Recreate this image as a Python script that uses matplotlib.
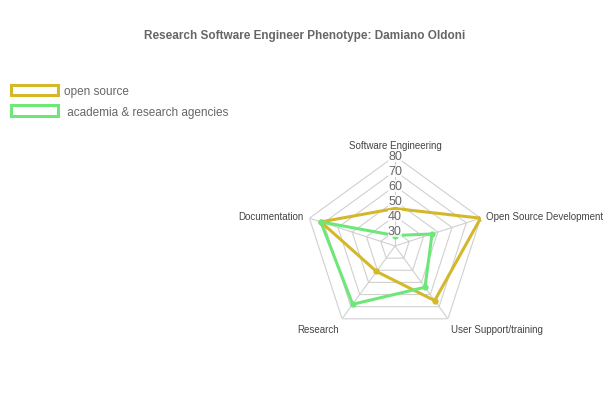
import numpy as np
import matplotlib
matplotlib.use("Agg")
import matplotlib.pyplot as plt
from matplotlib.patches import Patch

plt.rcParams["font.family"] = ["Liberation Sans", "DejaVu Sans"]

categories = ["Software Engineering", "Open Source Development", "User Support/training", "Research", "Documentation"]
open_source = [45, 80, 65, 41, 72]
academia = [27, 46, 54, 68, 72]
ticks = [30, 40, 50, 60, 70, 80]
gold = "#d4b82a"
green = "#6ee77a"

fig = plt.figure(figsize=(6.1, 4.06), dpi=100)
cx, cy, R = 395, 247, 90
ax = fig.add_axes([(cx - R) / 610, 1 - (cy + R) / 406, 2 * R / 610, 2 * R / 406], projection="polar")
ax.set_theta_zero_location("N")
ax.set_theta_direction(-1)
ax.set_ylim(20, 80)
ang = np.linspace(0, 2 * np.pi, len(categories), endpoint=False)
angc = np.append(ang, ang[0])
ax.grid(False)
ax.spines["polar"].set_visible(False)
ax.set_xticks([]); ax.set_yticks([])
for t in ticks:
    ax.plot(angc, [t] * len(angc), color="#d0d0d0", lw=0.8, zorder=1)
for a in ang:
    ax.plot([a, a], [20, 80], color="#d0d0d0", lw=0.8, zorder=1)
for vals, c in [(open_source, gold), (academia, green)]:
    v = np.append(vals, vals[0])
    ax.plot(angc, v, color=c, lw=2.2, zorder=3)
    ax.scatter(ang, vals, color=c, s=12, zorder=4)
for t in ticks:
    ax.text(0, t, str(t), ha="center", va="center", fontsize=9, color="#666666",
            bbox=dict(facecolor="white", edgecolor="none", pad=0.3, alpha=0.8), zorder=5)
has = ["center", "left", "left", "right", "right"]
vas = ["bottom", "center", "top", "top", "center"]
for a, lab, h, vv in zip(ang, categories, has, vas):
    ax.text(a, 84, lab, ha=h, va=vv, fontsize=7, color="#444444")

fig.text(0.5, 0.905, "Research Software Engineer Phenotype: Damiano Oldoni", ha="center",
         fontsize=8.5, fontweight="bold", color="#666666")
handles = [Patch(facecolor="white", edgecolor=gold, lw=2.2, label="open source"),
           Patch(facecolor="white", edgecolor=green, lw=2.2, label=" academia & research agencies")]
fig.legend(handles=handles, loc="upper left", bbox_to_anchor=(0.0, 0.815), frameon=False,
           fontsize=8.5, handlelength=4.0, handleheight=1.0, handletextpad=0.5,
           labelcolor="#666666", labelspacing=0.7)
fig.savefig("out.png", dpi=100)
